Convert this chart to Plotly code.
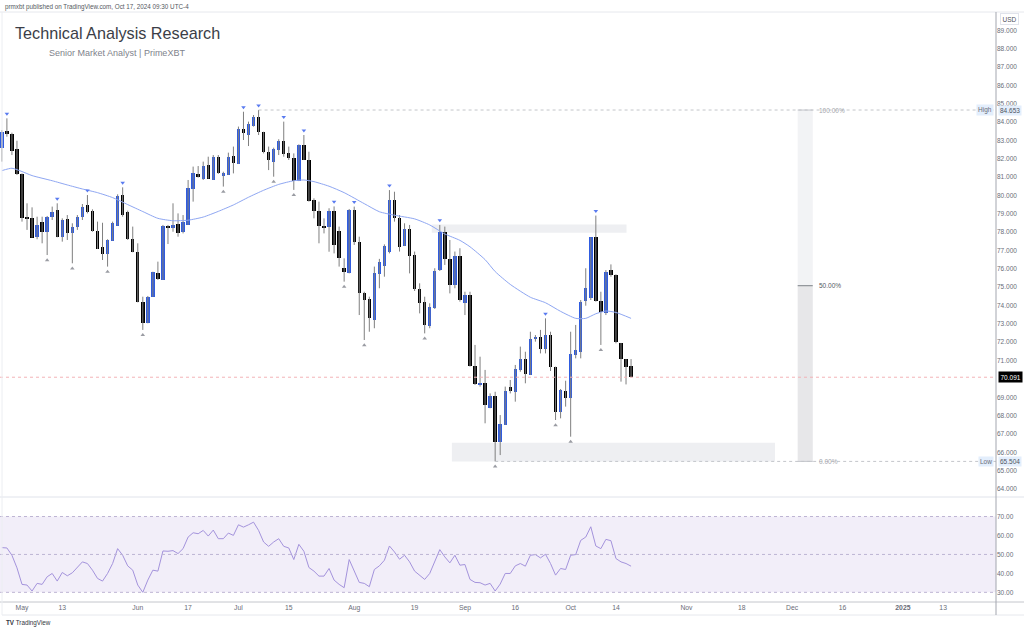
import numpy as np
import pandas as pd
import plotly.graph_objects as go

# ---------------- data ----------------
start_date = "2024-04-25"
opens = [82.57, 83.53, 83.33, 82.51, 81.17, 78.84, 78.75, 77.72, 78.53, 78.02,
         78.81, 79.21, 77.72, 78.71, 77.93, 78.30, 78.81, 79.48, 79.15, 78.06,
         77.17, 76.79, 77.53, 78.35, 80.02, 79.10, 77.64, 76.90, 74.21, 73.03,
         74.48, 75.79, 75.39, 78.35, 78.21, 78.44, 77.99, 78.39, 80.33, 81.17,
         80.89, 81.66, 80.84, 82.07, 81.06, 81.11, 82.15, 81.71, 83.62, 83.29,
         83.78, 84.29, 83.47, 82.38, 81.84, 82.47, 82.98, 82.33, 82.02, 80.78,
         82.75, 81.93, 79.75, 79.17, 78.35, 78.26, 79.15, 78.06, 76.06, 75.75,
         79.20, 77.44, 74.66, 74.35, 73.21, 75.70, 76.17, 76.94, 79.75, 78.75,
         77.24, 78.15, 76.75, 74.90, 74.17, 72.90, 73.85, 75.93, 77.99, 76.54,
         75.12, 76.72, 74.12, 74.57, 70.72, 69.70, 69.76, 68.43, 69.09, 66.54,
         67.49, 69.58, 69.27, 70.49, 71.07, 70.21, 72.16, 72.30, 71.63, 72.39,
         70.67, 68.21, 69.36, 68.94, 71.30, 71.48, 74.25, 74.39, 77.71, 74.25,
         73.57, 75.93, 75.66, 71.96, 71.08, 70.70]
highs = [83.56, 84.20, 83.42, 82.98, 81.20, 79.57, 79.35, 78.84, 78.84, 78.88,
         79.39, 79.57, 78.75, 78.93, 78.48, 78.93, 79.53, 80.02, 79.24, 78.57,
         78.51, 77.61, 78.57, 80.06, 80.44, 79.17, 78.30, 77.39, 74.48, 74.52,
         75.84, 76.39, 78.39, 78.39, 79.57, 79.02, 78.93, 80.84, 81.57, 81.60,
         81.84, 82.11, 82.20, 82.20, 81.29, 82.33, 82.66, 83.75, 84.56, 84.02,
         84.38, 84.653, 83.47, 82.66, 82.60, 83.06, 84.02, 82.66, 82.29, 82.78,
         83.29, 82.38, 79.84, 79.66, 78.75, 79.30, 79.40, 78.30, 76.57, 79.26,
         79.39, 77.75, 74.75, 74.48, 76.12, 76.54, 77.33, 80.29, 80.20, 78.93,
         78.48, 78.39, 76.94, 75.21, 74.48, 74.12, 76.03, 78.39, 78.30, 77.57,
         76.94, 77.12, 74.75, 74.75, 71.85, 71.21, 70.49, 69.21, 69.30, 68.03,
         69.58, 69.94, 70.76, 71.76, 71.48, 72.57, 72.39, 72.67, 73.30, 72.57,
         70.67, 69.45, 69.90, 72.57, 72.94, 74.30, 76.03, 77.71, 78.90, 74.75,
         75.93, 76.24, 75.70, 71.96, 71.08, 71.08]
lows = [81.84, 83.20, 82.20, 81.11, 78.57, 78.12, 77.70, 77.61, 77.39, 76.75,
        78.66, 77.72, 77.48, 77.57, 76.30, 78.12, 78.66, 79.02, 78.02, 77.08,
        76.48, 76.12, 77.53, 78.35, 78.84, 77.57, 76.90, 74.17, 72.67, 73.03,
        74.48, 75.39, 75.39, 77.35, 78.02, 77.75, 77.93, 78.39, 79.66, 80.97,
        80.84, 80.91, 80.84, 81.17, 80.48, 81.11, 81.20, 81.71, 83.02, 82.69,
        83.75, 83.29, 82.29, 81.38, 81.02, 82.20, 82.11, 81.93, 80.30, 80.78,
        81.93, 79.66, 78.75, 77.39, 77.93, 76.93, 76.84, 76.12, 75.30, 75.75,
        77.30, 73.48, 72.12, 72.57, 72.76, 74.94, 75.57, 76.84, 78.57, 76.94,
        77.24, 75.75, 74.79, 73.57, 72.48, 72.76, 73.81, 75.88, 76.21, 74.66,
        74.94, 74.21, 73.48, 70.67, 69.67, 69.58, 67.58, 68.40, 65.504, 65.85,
        67.49, 69.21, 68.76, 70.39, 69.76, 70.21, 72.03, 71.39, 71.39, 70.43,
        67.76, 67.85, 68.49, 66.85, 71.12, 71.12, 73.99, 74.30, 74.21, 71.85,
        73.48, 75.57, 71.94, 69.85, 69.70, 70.09]
closes = [83.47, 83.33, 82.42, 81.17, 78.75, 78.71, 77.70, 78.39, 78.02, 78.84,
          79.08, 77.72, 78.66, 77.93, 78.30, 78.81, 79.39, 79.08, 78.06, 77.08,
          76.79, 77.57, 78.51, 79.99, 78.93, 77.61, 76.90, 74.17, 73.07, 74.48,
          75.81, 75.44, 78.35, 78.24, 78.39, 77.97, 78.53, 80.39, 81.20, 81.02,
          81.62, 80.91, 82.07, 81.20, 81.20, 82.11, 81.75, 83.62, 83.38, 83.87,
          84.29, 83.47, 82.38, 81.93, 82.53, 82.98, 82.26, 82.02, 80.80, 82.75,
          81.93, 79.71, 79.17, 78.33, 78.26, 79.17, 77.30, 76.57, 75.84, 79.20,
          77.44, 74.66, 74.30, 73.30, 75.75, 76.35, 77.26, 79.75, 78.75, 77.21,
          78.15, 76.72, 74.90, 74.12, 72.94, 73.94, 75.88, 77.99, 76.54, 75.12,
          76.72, 74.30, 74.57, 70.72, 69.72, 69.80, 68.58, 69.09, 66.54, 67.52,
          69.36, 69.34, 70.52, 71.07, 70.25, 72.18, 72.28, 71.63, 72.39, 70.67,
          68.21, 69.40, 68.94, 71.34, 71.58, 74.21, 74.94, 77.71, 74.25, 73.63,
          75.84, 75.66, 71.99, 71.08, 70.67, 70.091]

ma_pos = [0, 2, 4, 6, 10, 13, 16, 19, 22, 25, 28, 31, 34, 37, 40, 43, 46, 49, 52,
          55, 58, 60, 62, 65, 68, 72, 75, 78, 82, 85, 88, 91, 93, 96, 98, 101,
          105, 108, 111, 114, 116, 118, 120, 122, 125]
ma_vals = [81.35, 81.48, 81.30, 81.08, 80.80, 80.57, 80.35, 80.15, 79.88, 79.50,
           79.12, 78.75, 78.62, 78.65, 78.82, 79.13, 79.48, 79.90, 80.28, 80.60,
           80.80, 80.84, 80.75, 80.50, 80.15, 79.55, 79.11, 78.92, 78.72, 78.39,
           77.90, 77.55, 77.20, 76.50, 75.85, 75.15, 74.45, 74.15, 73.68, 73.30,
           73.30, 73.55, 73.70, 73.62, 73.30]

rsi_vals = [53.58, 53.41, 49.56, 42.93, 34.19, 33.84, 30.70, 34.72, 34.19, 38.21,
            39.96, 35.94, 40.48, 38.73, 40.31, 43.45, 46.07, 45.20, 41.70, 37.34,
            35.94, 39.96, 45.20, 53.06, 49.56, 43.97, 41.70, 33.84, 30.00, 36.46,
            41.70, 41.18, 51.83, 51.66, 52.01, 50.44, 53.06, 59.17, 61.44, 60.92,
            62.66, 59.69, 62.84, 58.30, 58.30, 61.27, 60.04, 65.63, 64.41, 65.63,
            67.03, 62.66, 56.55, 54.28, 56.55, 58.30, 54.28, 53.41, 47.29, 55.33,
            51.66, 43.10, 41.18, 38.56, 38.56, 42.58, 36.46, 34.19, 32.45, 47.29,
            41.70, 35.24, 34.72, 32.97, 42.05, 43.97, 46.94, 54.45, 51.31, 47.47,
            49.56, 46.07, 41.18, 39.08, 36.81, 39.96, 46.07, 52.53, 48.69, 45.55,
            49.56, 44.32, 44.67, 36.81, 35.24, 35.07, 33.84, 34.72, 30.70, 34.37,
            39.96, 39.96, 43.97, 45.20, 43.80, 49.56, 49.91, 48.17, 50.09, 45.20,
            39.08, 42.58, 42.05, 49.56, 49.91, 57.42, 59.17, 64.59, 54.45, 53.06,
            57.95, 57.25, 47.82, 46.07, 45.20, 43.80]

high_pivots = [1, 11, 17, 24, 48, 51, 56, 60, 66, 70, 77, 87, 108, 118]
low_pivots = [9, 14, 21, 28, 44, 54, 58, 68, 72, 84, 98, 110, 113, 119]

tick_dates = ["2024-05-01", "2024-05-13", "2024-06-03", "2024-06-17", "2024-07-01",
              "2024-07-15", "2024-08-01", "2024-08-19", "2024-09-02", "2024-09-16",
              "2024-10-01", "2024-10-14", "2024-11-01", "2024-11-18", "2024-12-02",
              "2024-12-16", "2025-01-01", "2025-01-13"]
tick_labels = ["May", "13", "Jun", "17", "Jul", "15", "Aug", "19", "Sep", "16",
               "Oct", "14", "Nov", "18", "Dec", "16", "<b>2025</b>", "13"]
price_ticks = list(range(64, 90))
rsi_ticks = [30, 40, 50, 60, 70]

range_high = 84.653
range_low = 65.504
last_price = closes[-1]
supply_zone = (77.97, 78.42, "2024-08-22", "2024-10-16")   # price lo, hi, from, to
demand_zone = (65.50, 66.52, "2024-08-29", "2024-11-26")
fib_dates = ("2024-12-03", "2024-12-06")
fib_levels = [(1.0, "100.00%"), (0.5, "50.00%"), (0.0, "0.00%")]

# ---------------- helpers ----------------
n = len(closes)
dates = pd.bdate_range(start_date, periods=n)
x = np.arange(n)

def pos(d, frac=0.0):
    return int(np.busday_count(start_date, d)) + frac

tick_pos = [pos(d) for d in tick_dates]

W, H = 1024, 633
ML, MR, MT, MB = 0, 28, 12, 31
PW, PH = W - ML - MR, H - MT - MB

def px(xp):
    return (xp - ML) / PW

def py(yp):
    return (H - MB - yp) / PH

split = py(497)

BLUE = "#2f5ce0"
BLACK = "#000000"
WICK = "#7f7f7f"
FONT = "Liberation Sans, Arial, sans-serif"
AX = "#6a6d78"

fig = go.Figure()

# wicks
wx, wy = [], []
for i in range(n):
    wx += [x[i], x[i], None]
    wy += [lows[i], highs[i], None]
fig.add_trace(go.Scatter(x=wx, y=wy, mode="lines", line=dict(color=WICK, width=1),
                         hoverinfo="skip", showlegend=False, yaxis="y"))

# bodies
base = [min(o, c) for o, c in zip(opens, closes)]
hgt = [max(abs(c - o), 0.07) for o, c in zip(opens, closes)]
cols = [BLUE if c >= o else BLACK for o, c in zip(opens, closes)]
fig.add_trace(go.Bar(x=x, y=hgt, base=base, width=0.68, marker=dict(color=cols, line=dict(width=0)),
                     hovertext=[d.strftime("%Y-%m-%d") for d in dates],
                     showlegend=False, yaxis="y"))

# moving average
fig.add_trace(go.Scatter(x=ma_pos, y=ma_vals, mode="lines",
                         line=dict(color="#8ea6f2", width=1, shape="spline", smoothing=0.6),
                         hoverinfo="skip", showlegend=False, yaxis="y"))

# pivot markers
fig.add_trace(go.Scatter(x=[x[i] for i in high_pivots], y=[highs[i] + 0.25 for i in high_pivots],
                         mode="markers", marker=dict(symbol="triangle-down", size=4, color="#5a7bf0"),
                         hoverinfo="skip", showlegend=False, yaxis="y"))
fig.add_trace(go.Scatter(x=[x[i] for i in low_pivots], y=[lows[i] - 0.28 for i in low_pivots],
                         mode="markers", marker=dict(symbol="triangle-up", size=4, color="#9a9ca3"),
                         hoverinfo="skip", showlegend=False, yaxis="y"))

# RSI
fig.add_trace(go.Scatter(x=x, y=rsi_vals, mode="lines", line=dict(color="#a493dc", width=1),
                         hoverinfo="skip", showlegend=False, yaxis="y2"))

shapes = []
xmin, xmax = -0.37, 197.5
# zones
shapes.append(dict(type="rect", xref="x", yref="y", x0=pos(supply_zone[2], 0.4), x1=pos(supply_zone[3], 0.1),
                   y0=supply_zone[0], y1=supply_zone[1], fillcolor="#eeeff2", line=dict(width=0), layer="below"))
shapes.append(dict(type="rect", xref="x", yref="y", x0=pos(demand_zone[2], -0.6), x1=pos(demand_zone[3], 0.6),
                   y0=demand_zone[0], y1=demand_zone[1], fillcolor="#eeeff2", line=dict(width=0), layer="below"))
# fib tool
fx0, fx1 = pos(fib_dates[0], 0.1), pos(fib_dates[1], 0.1)
mid = range_low + 0.5 * (range_high - range_low)
shapes.append(dict(type="rect", xref="x", yref="y", x0=fx0, x1=fx1, y0=mid, y1=range_high,
                   fillcolor="#f2f3f5", line=dict(width=0), layer="below"))
shapes.append(dict(type="rect", xref="x", yref="y", x0=fx0, x1=fx1, y0=range_low, y1=mid,
                   fillcolor="#e7e7e9", line=dict(width=0), layer="below"))
annotations = []
for lv, lab in fib_levels:
    yv = range_low + lv * (range_high - range_low)
    col = "#7d8087" if lv == 0.5 else "#c4c6cc"
    shapes.append(dict(type="line", xref="x", yref="y", x0=fx0, x1=fx1, y0=yv, y1=yv,
                       line=dict(color=col, width=1)))
    annotations.append(dict(xref="x", yref="y", x=fx1 + 0.75, y=yv, text=lab, showarrow=False,
                            xanchor="left", yanchor="middle",
                            font=dict(family=FONT, size=6.5, color="#55585f" if lv == 0.5 else "#a3a6ad")))
# high / low lines
shapes.append(dict(type="line", xref="x", yref="y", x0=x[51], x1=xmax, y0=range_high, y1=range_high,
                   line=dict(color="#c3c5ca", width=1, dash="dot")))
shapes.append(dict(type="line", xref="x", yref="y", x0=x[98], x1=xmax, y0=range_low, y1=range_low,
                   line=dict(color="#c3c5ca", width=1, dash="dot")))
# last price line
shapes.append(dict(type="line", xref="paper", yref="y", x0=0, x1=1, y0=last_price, y1=last_price,
                   line=dict(color="#f3b3b8", width=1, dash="dot")))
# RSI band & levels
shapes.append(dict(type="rect", xref="paper", yref="y2", x0=0, x1=1, y0=30, y1=70,
                   fillcolor="rgba(126,87,194,0.10)", line=dict(width=0), layer="below"))
for lv in [70, 50, 30]:
    shapes.append(dict(type="line", xref="paper", yref="y2", x0=0, x1=1, y0=lv, y1=lv,
                       line=dict(color="#bdb4d3", width=1, dash="dot")))
# frame lines
xr = W / PW
shapes.append(dict(type="line", xref="paper", yref="paper", x0=0, x1=xr, y0=split, y1=split,
                   line=dict(color="#e0e3eb", width=1)))
shapes.append(dict(type="line", xref="paper", yref="paper", x0=0, x1=xr, y0=0, y1=0,
                   line=dict(color="#c4c6cc", width=1)))
shapes.append(dict(type="line", xref="paper", yref="paper", x0=0, x1=xr, y0=1, y1=1,
                   line=dict(color="#e6e8ed", width=1)))
shapes.append(dict(type="line", xref="paper", yref="paper", x0=px(2), x1=xr, y0=py(615), y1=py(615),
                   line=dict(color="#e6e8ed", width=1)))
shapes.append(dict(type="line", xref="paper", yref="paper", x0=px(2), x1=px(2), y0=py(615), y1=1,
                   line=dict(color="#eceef2", width=1)))
shapes.append(dict(type="line", xref="paper", yref="paper", x0=1, x1=1, y0=py(615), y1=1,
                   line=dict(color="#a3a6af", width=1)))

# texts
annotations += [
    dict(xref="paper", yref="paper", x=px(3), y=py(7), text="prmxbt published on TradingView.com, Oct 17, 2024 09:30 UTC-4",
         showarrow=False, xanchor="left", yanchor="middle", font=dict(family=FONT, size=6.3, color="#555861")),
    dict(xref="paper", yref="paper", x=px(13), y=py(33), text="Technical Analysis Research",
         showarrow=False, xanchor="left", yanchor="middle", font=dict(family=FONT, size=16.2, color="#3b3e47")),
    dict(xref="paper", yref="paper", x=px(47), y=py(53.5), text="Senior Market Analyst | PrimeXBT",
         showarrow=False, xanchor="left", yanchor="middle", font=dict(family=FONT, size=9, color="#80838c")),
    dict(xref="paper", yref="paper", x=px(4), y=py(623), text="<b>TV</b> TradingView",
         showarrow=False, xanchor="left", yanchor="middle", font=dict(family=FONT, size=6.3, color="#333640")),
    dict(xref="paper", yref="paper", x=px(1000), y=py(19.5), text="USD", showarrow=False,
         xanchor="left", yanchor="middle", bgcolor="#ffffff", bordercolor="#e0e3eb", borderwidth=1, borderpad=1.5,
         font=dict(family=FONT, size=6.5, color="#50535e")),
    dict(xref="paper", yref="y", x=px(998), y=range_high, text=f"{range_high:.3f}", showarrow=False,
         xanchor="left", yanchor="middle", bgcolor="#e3eefc", borderpad=1,
         font=dict(family=FONT, size=6.5, color="#50535e")),
    dict(xref="paper", yref="y", x=px(994), y=range_high, text="High", showarrow=False,
         xanchor="right", yanchor="middle", bgcolor="#e3eefc", borderpad=1,
         font=dict(family=FONT, size=6.5, color="#6a6d78")),
    dict(xref="paper", yref="y", x=px(998), y=range_low, text=f"{range_low:.3f}", showarrow=False,
         xanchor="left", yanchor="middle", bgcolor="#e3eefc", borderpad=1,
         font=dict(family=FONT, size=6.5, color="#50535e")),
    dict(xref="paper", yref="y", x=px(994), y=range_low, text="Low", showarrow=False,
         xanchor="right", yanchor="middle", bgcolor="#e3eefc", borderpad=1,
         font=dict(family=FONT, size=6.5, color="#6a6d78")),
    dict(xref="paper", yref="y", x=px(998), y=last_price, text=f"{last_price:.3f}", showarrow=False,
         xanchor="left", yanchor="middle", bgcolor="#000000", borderpad=1.5,
         font=dict(family=FONT, size=6.5, color="#ffffff")),
]

# the price badge hides the tick label it sits on
shown_ticks = [v for v in price_ticks if abs(v - last_price) > 0.4]

fig.update_layout(
    width=W, height=H,
    margin=dict(l=ML, r=MR, t=MT, b=MB),
    paper_bgcolor="#ffffff", plot_bgcolor="#ffffff",
    showlegend=False, bargap=0,
    font=dict(family=FONT),
    xaxis=dict(range=[xmin, xmax], anchor="y2", showgrid=False, zeroline=False, showline=False,
               tickmode="array", tickvals=tick_pos, ticktext=tick_labels, ticks="",
               tickfont=dict(family=FONT, size=6.8, color=AX), fixedrange=True),
    yaxis=dict(domain=[split, 1], range=[63.564, 89.995], side="right", showgrid=False, zeroline=False,
               showline=False, tickmode="array", tickvals=shown_ticks,
               ticktext=[f"{v:.3f}" for v in shown_ticks], ticks="",
               tickfont=dict(family=FONT, size=6.5, color=AX)),
    yaxis2=dict(domain=[0, split], range=[24.9, 80.3], side="right", showgrid=False, zeroline=False,
                showline=False, tickmode="array", tickvals=rsi_ticks,
                ticktext=[f"{v:.2f}" for v in rsi_ticks], ticks="",
                tickfont=dict(family=FONT, size=6.5, color=AX)),
    shapes=shapes,
    annotations=annotations,
)

fig.write_html("out.html")
